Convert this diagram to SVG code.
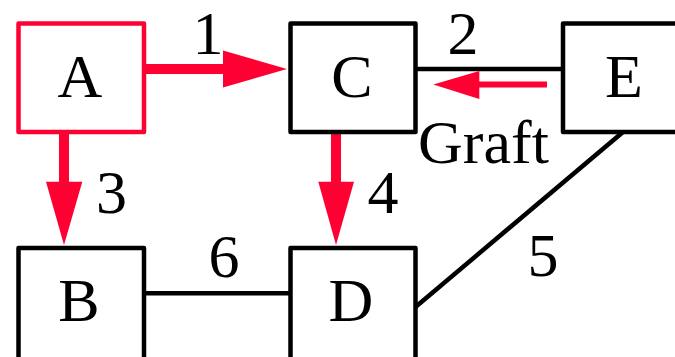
<svg xmlns="http://www.w3.org/2000/svg" width="675" height="357" viewBox="0 0 675 357">
<style>
.box{fill:#fff;stroke:#000;stroke-width:4.5;stroke-linejoin:round}
.red{stroke:#ff0033}
text{font-family:'Liberation Serif',Times,serif;font-size:62px;fill:#000;text-anchor:middle}
.edge{stroke:#000;stroke-width:4.5;fill:none}
.redline{stroke:#ff0033;fill:none}
.head{fill:#ff0033}
</style>
<rect width="675" height="357" fill="#fff"/>
<g id="connectors">
<line class="edge" x1="415.5" y1="69" x2="563" y2="69"/>
<line class="edge" x1="144" y1="293.3" x2="290.5" y2="293.3"/>
<line class="edge" x1="623" y1="132" x2="415.5" y2="307"/>
<line class="redline" x1="144" y1="69" x2="225" y2="69" stroke-width="10"/>
<polygon class="head" points="223,50.5 287,69 223,87.5"/>
<line class="redline" x1="64" y1="132" x2="64" y2="184" stroke-width="10"/>
<polygon class="head" points="46,181.7 64,245 82.3,181.7"/>
<line class="redline" x1="336" y1="132" x2="336" y2="184" stroke-width="10"/>
<polygon class="head" points="318.3,181.7 336,245 354,181.7"/>
<line class="redline" x1="478" y1="84.5" x2="547" y2="84.5" stroke-width="6"/>
<polygon class="head" points="479.3,71 433.3,84.5 479.3,99"/>
<text x="208" y="54">1</text>
<text x="463" y="54">2</text>
<text x="111.5" y="213">3</text>
<text x="383" y="213">4</text>
<text x="543" y="276">5</text>
<text x="224" y="276.5">6</text>
<text x="483.5" y="163">Graft</text>
</g>
<g id="A"><rect class="box red" x="18.5" y="23.5" width="125.5" height="108.5"/><text x="80" y="97">A</text></g>
<g id="C"><rect class="box" x="290.5" y="23.5" width="125" height="108.5"/><text x="352" y="97">C</text></g>
<g id="E"><rect class="box" x="563" y="23.5" width="125" height="108.5"/><text x="624" y="97">E</text></g>
<g id="B"><rect class="box" x="18.5" y="248" width="125.5" height="120"/><text x="79" y="321">B</text></g>
<g id="D"><rect class="box" x="290.5" y="248" width="125" height="120"/><text x="351" y="321">D</text></g>
</svg>
